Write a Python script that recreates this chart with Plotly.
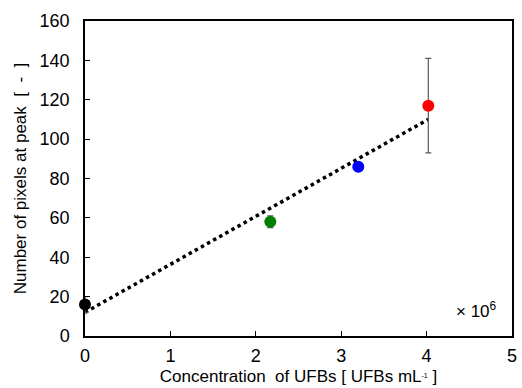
import numpy as np
import plotly.graph_objects as go

conc = [0.0, 2.17, 3.2, 4.02]
pixels = [16.0, 58.0, 86.0, 117.0]
errors = [4.0, 3.0, 1.5, 24.0]
colors = ["black", "green", "blue", "red"]
x_ticks = [0, 1, 2, 3, 4, 5]
y_ticks = [0, 20, 40, 60, 80, 100, 120, 140, 160]

slope, intercept = np.polyfit(conc, pixels, 1)
fit_x = [min(conc), max(conc)]
fit_y = [slope * v + intercept for v in fit_x]

fig = go.Figure()
fig.add_trace(go.Scatter(x=fit_x, y=fit_y, mode="lines",
                         line=dict(color="black", width=3.5, dash="dot"),
                         showlegend=False, hoverinfo="skip", cliponaxis=False))
for xv, yv, ev, c in zip(conc, pixels, errors, colors):
    fig.add_trace(go.Scatter(x=[xv], y=[yv], mode="markers", cliponaxis=False,
                             marker=dict(color=c, size=12),
                             error_y=dict(type="data", array=[ev], color="#595959",
                                          thickness=1.2, width=3),
                             showlegend=False))

fig.add_annotation(x=4.58, y=13, text="× 10<sup>6</sup>", showarrow=False,
                   font=dict(size=17, color="black"))

axis_common = dict(showline=True, linecolor="black", linewidth=1.5, mirror=True,
                   ticks="inside", ticklen=5, tickcolor="black", showgrid=False,
                   zeroline=False, tickfont=dict(size=18, color="black"))
fig.update_xaxes(range=[0, 5], tickvals=x_ticks, ticklabelstandoff=3,
                 title=dict(text="Concentration  of UFBs [ UFBs mL<span style='font-size:10px'><sup>-1</sup></span> ]",
                            font=dict(size=17, color="black"), standoff=5),
                 **axis_common)
fig.update_yaxes(range=[0, 160], tickvals=y_ticks, ticklabelstandoff=10,
                 title=dict(text="Number of pixels at peak  [  -  ]",
                            font=dict(size=17, color="black"), standoff=9),
                 **axis_common)
fig.update_layout(width=522, height=388, margin=dict(l=85, r=5, t=21, b=51),
                  plot_bgcolor="white", paper_bgcolor="white",
                  font=dict(family="Liberation Sans, Arial, sans-serif"))
fig.write_html("out.html")
